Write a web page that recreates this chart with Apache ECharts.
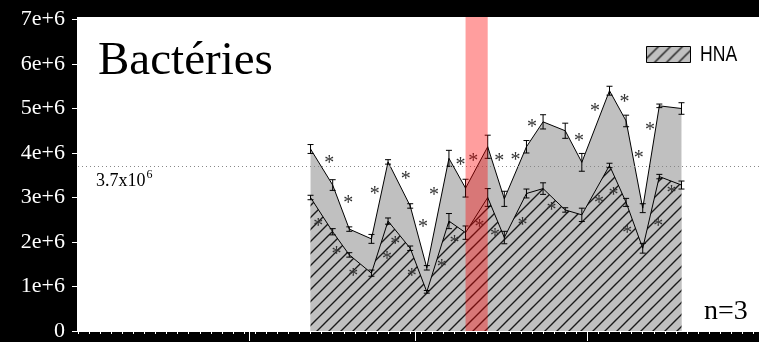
<!DOCTYPE html>
<html><head><meta charset="utf-8">
<script src="https://cdn.jsdelivr.net/npm/echarts@6/dist/echarts.min.js"></script>
<style>html,body{margin:0;padding:0;background:#000}#c{width:759px;height:342px}</style>
</head><body><div id="c"></div>
<script>
// sampling days (x), values in millions of cells
const days = [42,46,49,53,56,60,63,67,70,74,77,81,84,88,91,96,99,102,105,109];
const totalMean = [4.09,3.28,2.29,2.07,3.80,2.81,1.42,3.88,3.21,4.14,2.97,4.14,4.70,4.50,3.79,5.40,4.72,2.76,5.06,5.00];
const totalErr  = [0.10,0.12,0.05,0.10,0.05,0.05,0.05,0.18,0.20,0.26,0.17,0.14,0.16,0.17,0.20,0.10,0.13,0.10,0.04,0.13];
const hnaMean   = [3.00,2.23,1.71,1.30,2.47,1.86,0.88,2.47,2.21,3.00,2.10,3.09,3.20,2.72,2.61,3.72,2.89,1.86,3.47,3.28];
const hnaErr    = [0.05,0.07,0.05,0.07,0.07,0.05,0.03,0.17,0.15,0.20,0.14,0.10,0.13,0.05,0.15,0.05,0.09,0.11,0.05,0.09];
// significance asterisks
const starTopDays = [45.4,48.8,53.6,59.2,62.3,64.3,69.1,71.4,76.1,79.0,82.0,90.5,93.4,98.7,101.3,103.3];
const starTopVals = [3.85,2.96,3.16,3.48,2.41,3.14,3.80,3.90,3.89,3.91,4.65,4.34,5.02,5.22,3.97,4.60];
const starHnaDays = [43.4,46.7,49.7,55.8,57.3,60.3,65.7,68.0,72.5,75.3,80.3,85.5,94.1,96.7,99.2,104.8,107.2];
const starHnaVals = [2.44,1.80,1.31,1.69,2.02,1.31,1.52,2.04,2.40,2.21,2.46,2.79,2.95,3.13,2.28,2.44,3.17];
const threshold = 3.7;
const thresholdText = '3.7x10', thresholdExp = '6';
const band = [[70, 74]];
const monthTicks = [31,61,92];
const yTickLabels = ['0','1e+6','2e+6','3e+6','4e+6','5e+6','6e+6','7e+6'];

function hatch(){
  const c=document.createElement('canvas'); c.width=12; c.height=12;
  const g=c.getContext('2d');
  g.fillStyle='#c0c0c0'; g.fillRect(0,0,12,12);
  g.strokeStyle='#1a1a1a'; g.lineWidth=1.4; g.beginPath();
  g.moveTo(-2,14); g.lineTo(14,-2);
  g.moveTo(-2,2); g.lineTo(2,-2);
  g.moveTo(10,14); g.lineTo(14,10);
  g.stroke(); return c;
}
const pattern = {image: hatch(), repeat: 'repeat'};

const errData = days.map((d,i)=>[d,totalMean[i],totalErr[i]]).concat(days.map((d,i)=>[d,hnaMean[i],hnaErr[i]]));
const starData = starTopDays.map((d,i)=>[d,starTopVals[i]]).concat(starHnaDays.map((d,i)=>[d,starHnaVals[i]]));

const chart = echarts.init(document.getElementById('c'), null, {renderer:'canvas'});
chart.setOption({
  backgroundColor:'#000',
  animation:false,
  grid:{left:78,right:0,top:19.5,bottom:10},
  graphic:[
    {type:'rect', z:-100, silent:true, shape:{x:77,y:17,width:682,height:315}, style:{fill:'#fff'}},
    {type:'text', z:100, x:704, y:312, style:{text:'n=3', font:'28px "Liberation Serif"', fill:'#000', verticalAlign:'middle'}},
    {type:'text', z:100, x:700, y:54.5, scaleX:0.8, style:{text:'HNA', font:'22px "Liberation Sans"', fill:'#000', verticalAlign:'middle'}},
    {type:'text', z:100, x:96, y:181.5, style:{text:thresholdText, font:'18px "Liberation Serif"', fill:'#000', verticalAlign:'middle'}},
    {type:'text', z:100, x:146.5, y:175, style:{text:thresholdExp, font:'12px "Liberation Serif"', fill:'#000', verticalAlign:'middle'}}
  ],
  title:{text:'Bactéries', left:93, top:33, textStyle:{fontFamily:'Liberation Serif', fontSize:47, fontWeight:'normal', color:'#000'}},
  legend:{left:641, top:41, itemWidth:44, itemHeight:16, icon:'rect', formatter:()=>'',
    data:[{name:'HNA', itemStyle:{color:pattern, borderColor:'#000', borderWidth:1}}],
    textStyle:{fontSize:12, color:'#000'}},
  xAxis:[
    {type:'value',min:0,max:123,interval:2,
      axisLine:{lineStyle:{color:'#fff',width:1}}, axisTick:{length:3,lineStyle:{color:'#fff'}},
      axisLabel:{show:false}, splitLine:{show:false}},
    {type:'value',min:0,max:123,position:'bottom',
      axisLine:{show:false}, axisTick:{show:true,customValues:monthTicks,length:10,lineStyle:{color:'#fff'}},
      axisLabel:{show:false}, splitLine:{show:false}}
  ],
  yAxis:{type:'value',min:0,max:7,interval:1,
    axisLine:{show:true,lineStyle:{color:'#fff'}}, axisTick:{show:true,length:6,lineStyle:{color:'#fff'}},
    axisLabel:{color:'#fff',fontFamily:'Liberation Serif',fontSize:22,margin:13,formatter:(v)=>yTickLabels[Math.round(v)]},
    splitLine:{show:false}},
  series:[
    {type:'line', data:[], z:1, markLine:{silent:true, symbol:'none', data:[{yAxis:threshold}],
      lineStyle:{color:'#888',type:[1,3],width:1}, label:{show:false}}},
    {type:'line', name:'Total', data:days.map((d,i)=>[d,totalMean[i]]), symbol:'none', z:2,
      lineStyle:{color:'#000',width:1}, areaStyle:{color:'#c0c0c0',opacity:1}},
    {type:'line', name:'HNA', data:days.map((d,i)=>[d,hnaMean[i]]), symbol:'none', z:3,
      itemStyle:{color:'#c0c0c0'},
      lineStyle:{color:'#000',width:1}, areaStyle:{color:pattern,opacity:1}},
    {type:'custom', z:4, data:errData, renderItem:(params,api)=>{
      const c=api.coord([api.value(0),api.value(1)]);
      const hi=api.coord([api.value(0),api.value(1)+api.value(2)]);
      const lo=api.coord([api.value(0),api.value(1)-api.value(2)]);
      const w=3, st={stroke:'#000',lineWidth:1};
      return {type:'group',children:[
        {type:'line',shape:{x1:c[0],y1:hi[1],x2:c[0],y2:lo[1]},style:st},
        {type:'line',shape:{x1:c[0]-w,y1:hi[1],x2:c[0]+w,y2:hi[1]},style:st},
        {type:'line',shape:{x1:c[0]-w,y1:lo[1],x2:c[0]+w,y2:lo[1]},style:st}]};
    }},
    {type:'custom', z:5, data:starData, renderItem:(params,api)=>{
      const c=api.coord([api.value(0),api.value(1)]);
      return {type:'text', x:c[0], y:c[1]+4, style:{text:'*', font:'20px "Liberation Serif"', fill:'#333', align:'center', verticalAlign:'middle'}};
    }},
    {type:'custom', z:10, data:band, encode:{x:[0,1]}, renderItem:(params,api)=>{
      const a=api.coord([api.value(0),0]);
      const b=api.coord([api.value(1),0]);
      const cs=params.coordSys;
      return {type:'rect', shape:{x:a[0], y:cs.y-2.5, width:b[0]-a[0], height:a[1]-cs.y+2.5}, style:{fill:'rgba(255,0,0,0.38)'}};
    }}
  ]
});
</script></body></html>
